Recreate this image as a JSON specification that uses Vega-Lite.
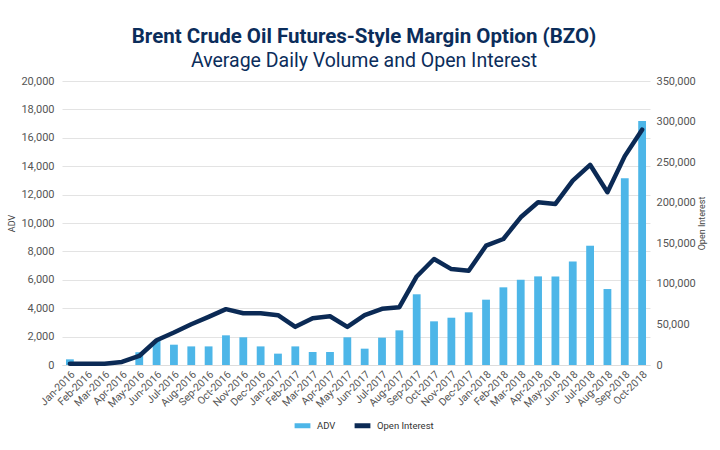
{
  "$schema": "https://vega.github.io/schema/vega-lite/v6.json",
  "width": 588,
  "height": 284,
  "autosize": {"type": "none"},
  "padding": {"left": 62, "top": 81, "right": 70, "bottom": 85},
  "background": "white",
  "config": {
    "font": "Roboto",
    "view": {"stroke": null},
    "axis": {"labelColor": "#555555", "titleColor": "#444444", "labelFont": "Roboto", "titleFont": "Roboto"}
  },
  "title": {
    "text": "Brent Crude Oil Futures-Style Margin Option (BZO)",
    "subtitle": "Average Daily Volume and Open Interest",
    "anchor": "middle",
    "frame": "group",
    "dx": 8,
    "fontSize": 20.5,
    "fontWeight": "bold",
    "color": "#0B2D5B",
    "subtitleFontSize": 19.5,
    "subtitleColor": "#0B2D5B",
    "subtitlePadding": 4,
    "offset": 5
  },
  "data": {
    "values": [
      {"month": "Jan-2016", "adv": 400, "oi": 1500},
      {"month": "Feb-2016", "adv": 0, "oi": 1500},
      {"month": "Mar-2016", "adv": 0, "oi": 1500},
      {"month": "Apr-2016", "adv": 0, "oi": 3700},
      {"month": "May-2016", "adv": 900, "oi": 11100},
      {"month": "Jun-2016", "adv": 1700, "oi": 30500},
      {"month": "Jul-2016", "adv": 1430, "oi": 40000},
      {"month": "Aug-2016", "adv": 1310, "oi": 50200},
      {"month": "Sep-2016", "adv": 1310, "oi": 59300},
      {"month": "Oct-2016", "adv": 2090, "oi": 68800},
      {"month": "Nov-2016", "adv": 1950, "oi": 63800},
      {"month": "Dec-2016", "adv": 1310, "oi": 63800},
      {"month": "Jan-2017", "adv": 800, "oi": 61400},
      {"month": "Feb-2017", "adv": 1310, "oi": 47000},
      {"month": "Mar-2017", "adv": 915, "oi": 57700},
      {"month": "Apr-2017", "adv": 915, "oi": 60100},
      {"month": "May-2017", "adv": 1950, "oi": 47000},
      {"month": "Jun-2017", "adv": 1150, "oi": 61400},
      {"month": "Jul-2017", "adv": 1925, "oi": 69200},
      {"month": "Aug-2017", "adv": 2440, "oi": 71300},
      {"month": "Sep-2017", "adv": 4980, "oi": 109100},
      {"month": "Oct-2017", "adv": 3075, "oi": 130600},
      {"month": "Nov-2017", "adv": 3330, "oi": 118200},
      {"month": "Dec-2017", "adv": 3710, "oi": 116100},
      {"month": "Jan-2018", "adv": 4600, "oi": 147000},
      {"month": "Feb-2018", "adv": 5470, "oi": 155300},
      {"month": "Mar-2018", "adv": 6010, "oi": 182000},
      {"month": "Apr-2018", "adv": 6240, "oi": 200600},
      {"month": "May-2018", "adv": 6240, "oi": 198500},
      {"month": "Jun-2018", "adv": 7280, "oi": 227300},
      {"month": "Jul-2018", "adv": 8400, "oi": 246700},
      {"month": "Aug-2018", "adv": 5350, "oi": 212900},
      {"month": "Sep-2018", "adv": 13150, "oi": 257400},
      {"month": "Oct-2018", "adv": 17180, "oi": 290000}
    ]
  },
  "encoding": {
    "x": {
      "field": "month",
      "type": "nominal",
      "sort": null,
      "scale": {"paddingInner": 0.55, "paddingOuter": 0.23},
      "axis": {
        "title": null,
        "labelAngle": -45,
        "labelFontSize": 10.5,
        "labelColor": "#555555",
        "ticks": false,
        "domain": true,
        "domainColor": "#dddddd",
        "labelPadding": 4
      }
    }
  },
  "layer": [
    {
      "mark": {"type": "bar", "color": "#4DB6E8"},
      "encoding": {
        "y": {
          "field": "adv",
          "type": "quantitative",
          "scale": {"domain": [0, 20000]},
          "axis": {
            "title": "ADV",
            "titleFontSize": 9,
            "titleFontWeight": "normal",
            "titlePadding": 4,
            "values": [0, 2000, 4000, 6000, 8000, 10000, 12000, 14000, 16000, 18000, 20000],
            "format": ",d",
            "labelFontSize": 11,
            "domain": false,
            "ticks": false,
            "labelPadding": 8,
            "gridColor": "#e3e3e3"
          }
        },
        "color": {
          "datum": "ADV",
          "type": "nominal",
          "scale": {"domain": ["ADV", "Open Interest"], "range": ["#4DB6E8", "#0B2A55"]},
          "legend": {
            "title": null,
            "orient": "none",
            "legendX": 230,
            "legendY": 334,
            "direction": "horizontal",
            "symbolType": "stroke",
            "symbolStrokeWidth": 5,
            "symbolSize": 250,
            "labelFontSize": 9.5,
            "labelColor": "#333333",
            "columnPadding": 8
          }
        }
      }
    },
    {
      "mark": {"type": "line", "strokeWidth": 4.5, "strokeCap": "round", "strokeJoin": "round"},
      "encoding": {
        "y": {
          "field": "oi",
          "type": "quantitative",
          "scale": {"domain": [0, 350000]},
          "axis": {
            "orient": "right",
            "title": "Open Interest",
            "titleAngle": -90,
            "titleFontSize": 9,
            "titleFontWeight": "normal",
            "titlePadding": 11,
            "values": [0, 50000, 100000, 150000, 200000, 250000, 300000, 350000],
            "format": ",d",
            "labelFontSize": 11,
            "domain": false,
            "ticks": false,
            "grid": false,
            "labelPadding": 6
          }
        },
        "color": {"datum": "Open Interest", "type": "nominal"}
      }
    }
  ],
  "resolve": {"scale": {"y": "independent"}}
}
